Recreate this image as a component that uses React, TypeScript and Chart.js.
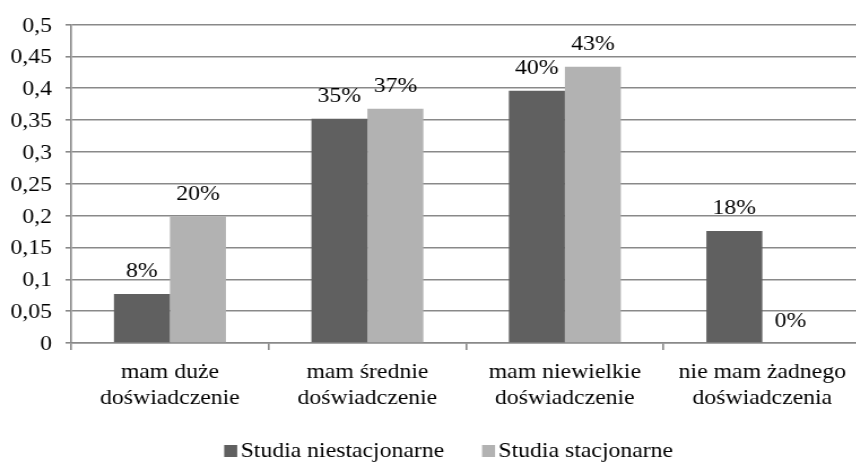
import React, { useEffect, useRef } from 'react';
import { Chart, registerables } from 'chart.js';

Chart.register(...registerables);

const categories: string[][] = [
  ['mam duże', 'doświadczenie'],
  ['mam średnie', 'doświadczenie'],
  ['mam niewielkie', 'doświadczenie'],
  ['nie mam żadnego', 'doświadczenia'],
];
const seriesNames = ['Studia niestacjonarne', 'Studia stacjonarne'];
const niestacjonarne = [0.077, 0.352, 0.396, 0.176];
const stacjonarne = [0.199, 0.368, 0.434, 0];
const yTickLabels = ['0', '0,05', '0,1', '0,15', '0,2', '0,25', '0,3', '0,35', '0,4', '0,45', '0,5'];
const seriesColors = ['#606060', '#b2b2b2'];

const FONT_FAMILY = '"Liberation Serif", "Times New Roman", serif';
const FONT_SIZE = 21;
const SCALE_X = 1.13;
const CANVAS_W = 766;
const CANVAS_H = 464;

const dataLabelPlugin = {
  id: 'dataLabels',
  afterDatasetsDraw(chart: any) {
    const ctx = chart.ctx;
    ctx.save();
    ctx.font = `${FONT_SIZE}px ${FONT_FAMILY}`;
    ctx.fillStyle = '#000';
    ctx.textAlign = 'center';
    ctx.textBaseline = 'alphabetic';
    chart.data.datasets.forEach((ds: any, di: number) => {
      const meta = chart.getDatasetMeta(di);
      meta.data.forEach((el: any, i: number) => {
        const v = ds.data[i] as number;
        ctx.fillText(`${Math.round(v * 100)}%`, el.x, el.y - 16.5);
      });
    });
    ctx.restore();
  },
};

const legendPlugin = {
  id: 'customLegend',
  afterDraw(chart: any) {
    const ctx = chart.ctx;
    ctx.save();
    ctx.font = `${FONT_SIZE}px ${FONT_FAMILY}`;
    ctx.textBaseline = 'middle';
    ctx.textAlign = 'left';
    const bw = 11.5;
    const bh = 12;
    const gap = 3;
    const sep = 33.5;
    const ds = chart.data.datasets;
    const widths = ds.map((d: any) => ctx.measureText(d.label).width);
    let total = 0;
    widths.forEach((w: number, i: number) => {
      total += bw + gap + w + (i > 0 ? sep : 0);
    });
    let x = 397 - total / 2;
    const y = 451;
    ds.forEach((d: any, i: number) => {
      ctx.fillStyle = d.backgroundColor;
      ctx.fillRect(x, y - bh / 2, bw, bh);
      ctx.fillStyle = '#000';
      ctx.fillText(d.label, x + bw + gap, y);
      x += bw + gap + widths[i] + sep;
    });
    ctx.restore();
  },
};

export default function App() {
  const ref = useRef<HTMLCanvasElement | null>(null);

  useEffect(() => {
    if (!ref.current) return;
    const gridColor = '#898989';
    const chart = new Chart(ref.current, {
      type: 'bar',
      data: {
        labels: categories,
        datasets: [
          {
            label: seriesNames[0],
            data: niestacjonarne,
            backgroundColor: seriesColors[0],
            barPercentage: 1,
            categoryPercentage: 0.567,
          },
          {
            label: seriesNames[1],
            data: stacjonarne,
            backgroundColor: seriesColors[1],
            barPercentage: 1,
            categoryPercentage: 0.567,
          },
        ],
      },
      options: {
        responsive: false,
        animation: false,
        devicePixelRatio: 1,
        layout: { padding: { top: 20, right: 4, bottom: 51, left: 0 } },
        plugins: {
          legend: { display: false },
          tooltip: { enabled: false },
        },
        scales: {
          x: {
            grid: {
              offset: true,
              drawOnChartArea: false,
              drawTicks: true,
              tickLength: 7,
              color: gridColor,
              lineWidth: 1.6,
            },
            border: { color: gridColor, width: 1.6 },
            ticks: {
              color: '#000',
              padding: 9,
              font: { family: FONT_FAMILY, size: FONT_SIZE, lineHeight: 26 / 21 },
              maxRotation: 0,
              autoSkip: false,
            },
            afterFit(scale: any) {
              scale.height = 70;
            },
          },
          y: {
            min: 0,
            max: 0.5,
            ticks: {
              stepSize: 0.05,
              color: '#000',
              padding: 12,
              labelOffset: 1.5,
              font: { family: FONT_FAMILY, size: FONT_SIZE },
              callback: (_v: any, i: number) => yTickLabels[i],
            },
            grid: { color: gridColor, tickLength: 5, lineWidth: 1.6 },
            border: { color: gridColor, width: 1.6 },
            afterFit(scale: any) {
              scale.width = 63;
            },
          },
        },
      },
      plugins: [dataLabelPlugin, legendPlugin],
    });
    return () => chart.destroy();
  }, []);

  return (
    <div
      style={{
        position: 'fixed',
        left: 0,
        top: 0,
        width: 856,
        height: 464,
        overflow: 'hidden',
        background: '#fff',
      }}
    >
      <div
        style={{
          width: CANVAS_W,
          height: CANVAS_H,
          transform: `scaleX(${SCALE_X})`,
          transformOrigin: '0 0',
        }}
      >
        <canvas ref={ref} width={CANVAS_W} height={CANVAS_H} />
      </div>
    </div>
  );
}
